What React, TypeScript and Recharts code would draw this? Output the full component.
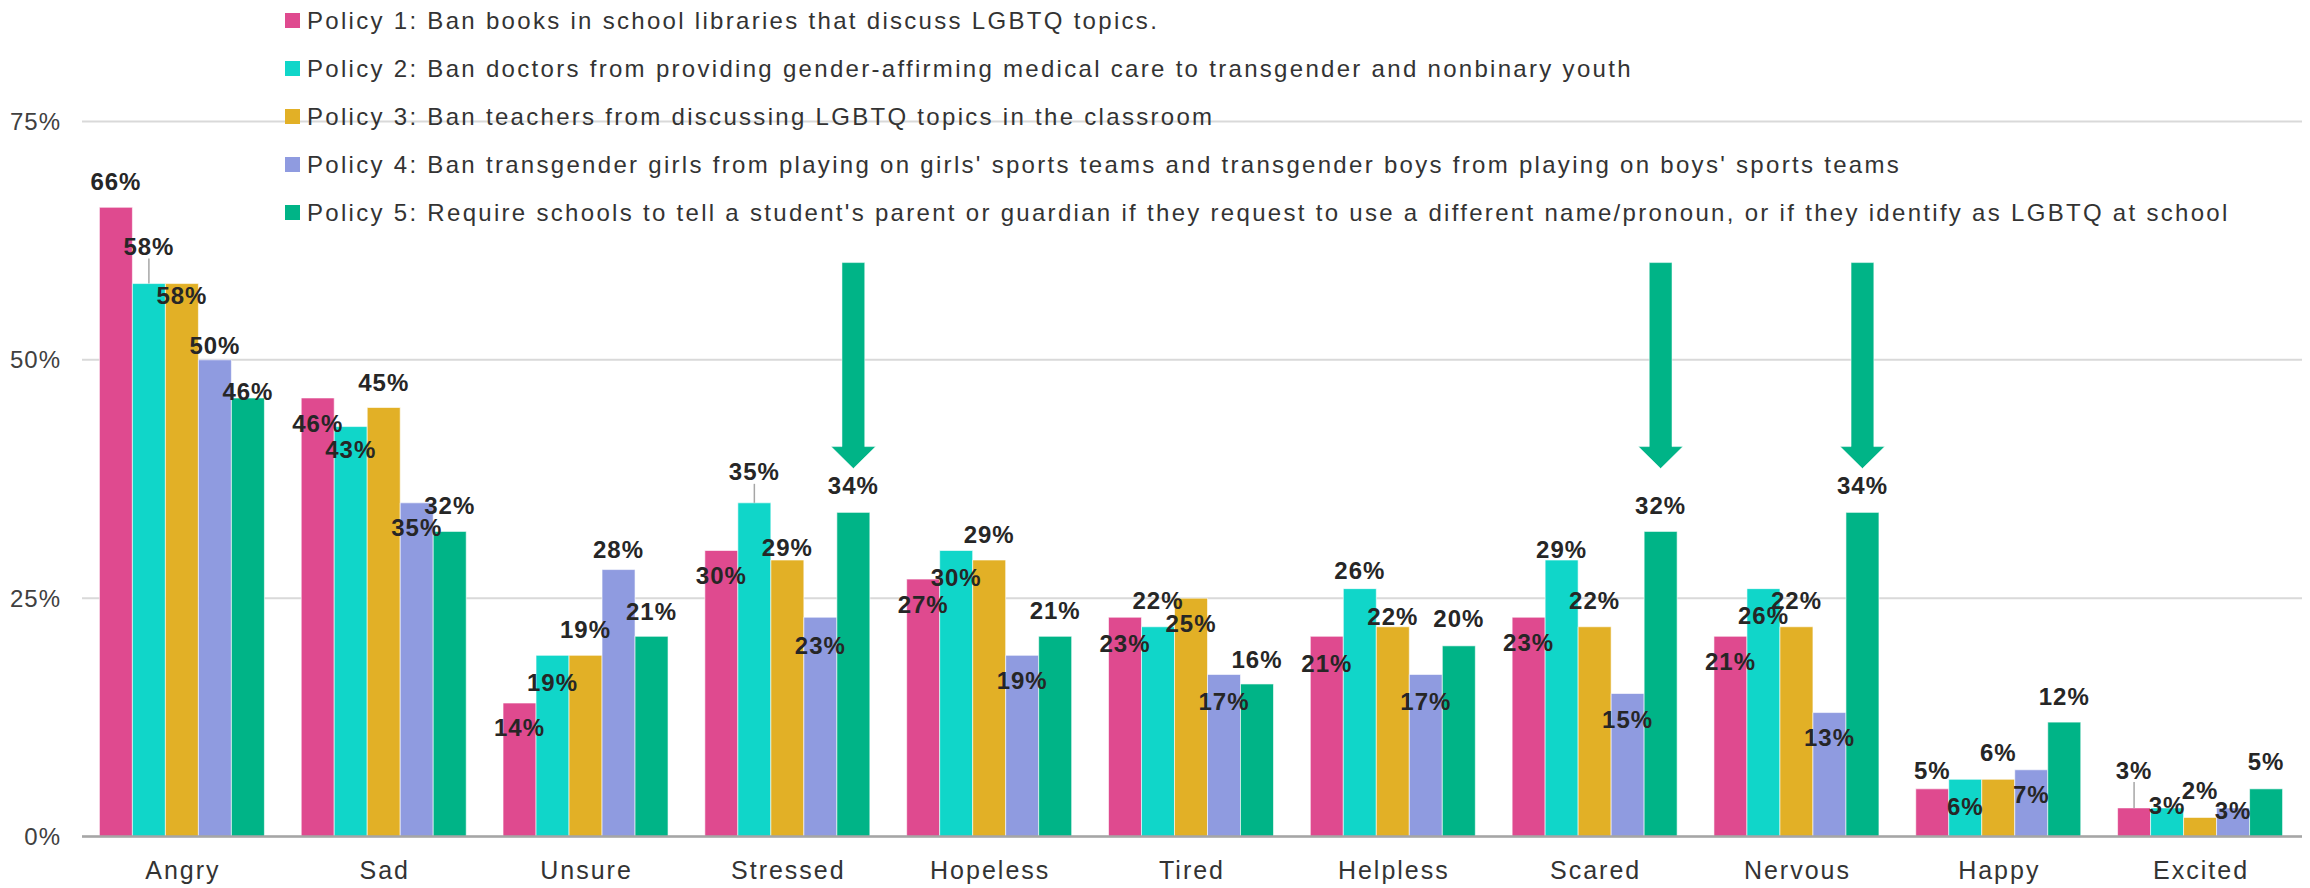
import React from 'react'
import { BarChart, Bar, XAxis, YAxis, CartesianGrid, Legend, LabelList } from 'recharts'

const emotions = ['Angry', 'Sad', 'Unsure', 'Stressed', 'Hopeless', 'Tired', 'Helpless', 'Scared', 'Nervous', 'Happy', 'Excited']
const policy1 = [66, 46, 14, 30, 27, 23, 21, 23, 21, 5, 3]
const policy2 = [58, 43, 19, 35, 30, 22, 26, 29, 26, 6, 3]
const policy3 = [58, 45, 19, 29, 29, 25, 22, 22, 22, 6, 2]
const policy4 = [50, 35, 28, 23, 19, 17, 17, 15, 13, 7, 3]
const policy5 = [46, 32, 21, 34, 21, 16, 20, 32, 34, 12, 5]

const policyNames = [
  'Policy 1: Ban books in school libraries that discuss LGBTQ topics.',
  'Policy 2: Ban doctors from providing gender-affirming medical care to transgender and nonbinary youth',
  'Policy 3: Ban teachers from discussing LGBTQ topics in the classroom',
  "Policy 4: Ban transgender girls from playing on girls' sports teams and transgender boys from playing on boys' sports teams",
  "Policy 5: Require schools to tell a student's parent or guardian if they request to use a different name/pronoun, or if they identify as LGBTQ at school",
]
const yTicks = [0, 25, 50, 75]

// categories where the arrow points at policy 5, arrow spans these values
const highlighted = ['Stressed', 'Scared', 'Nervous']
const arrowFrom = 60.2
const arrowHeadAt = 40.9
const arrowTip = 38.6

const colors = ['#DF4A8F', '#10D6C9', '#E2B026', '#8F9BE0', '#00B487']
const FONT = '"Liberation Sans", Arial, sans-serif'

// vertical shift of each value label from its bar top (px, negative = above)
const labelShift = [
  [-26, 25, 24, 25, 25, 26, 27, 25, 25, -18, -38],
  [-37, 23, 27, -31, 27, -26, -18, -11, 27, 27, -3],
  [12, -25, -26, -13, -26, 25, -10, -26, -26, -27, -27],
  [-14, 25, -20, 28, 25, 27, 27, 26, 25, 25, 2],
  [-7, -26, -25, -27, -26, -25, -27, -26, -27, -26, -27],
]

const data = emotions.map((e, i) => ({
  emotion: e,
  p1: policy1[i],
  p2: policy2[i],
  p3: policy3[i],
  p4: policy4[i],
  p5: policy5[i],
}))

function valueLabel(shifts: number[]) {
  return (props: any) => {
    const { x, y, width, value, index } = props
    const cx = x + width / 2
    const cy = y + shifts[index]
    return (
      <g>
        {shifts[index] <= -30 && (
          <line x1={cx} x2={cx} y1={y} y2={cy + 12} stroke="#a6a6a6" strokeWidth={1.5} />
        )}
        <text
          x={cx}
          y={cy + 8.6}
          textAnchor="middle"
          fontFamily={FONT}
          fontSize={24}
          fontWeight="bold"
          letterSpacing={1}
          fill="#262626"
        >
          {value}%
        </text>
      </g>
    )
  }
}

function ArrowBar(props: any) {
  const { x, y, width, height, payload, value } = props
  const base = y + height
  const unit = value ? height / value : 0
  const cx = x + width / 2
  let arrow = null
  if (highlighted.includes(payload.emotion)) {
    const top = base - arrowFrom * unit
    const head = base - arrowHeadAt * unit
    const tip = base - arrowTip * unit
    const sw = width * 0.345
    const hw = width * 0.675
    const pts = [
      [cx - sw, top], [cx + sw, top], [cx + sw, head], [cx + hw, head],
      [cx, tip], [cx - hw, head], [cx - sw, head],
    ].map((p) => p.join(',')).join(' ')
    arrow = <polygon points={pts} fill={colors[4]} stroke="#ffffff" strokeOpacity={0.5} strokeWidth={1} />
  }
  return (
    <g>
      <rect x={x} y={y} width={width} height={height} fill={colors[4]} stroke="#ffffff" strokeOpacity={0.6} strokeWidth={1} />
      {arrow}
    </g>
  )
}

const LegendContent = () => (
  <div style={{ display: 'flex', flexDirection: 'column', fontFamily: FONT }}>
    {policyNames.map((n, i) => (
      <div key={n} style={{ height: 48, display: 'flex', alignItems: 'center' }}>
        <span style={{ width: 15, height: 15, background: colors[i], marginRight: 7, flex: 'none' }} />
        <span style={{ fontSize: 24, letterSpacing: 2.3, color: '#333333', whiteSpace: 'nowrap' }}>{n}</span>
      </div>
    ))}
  </div>
)

const XTick = ({ x, y, payload }: any) => (
  <text x={x} y={y + 36} textAnchor="middle" fontFamily={FONT} fontSize={25} letterSpacing={2} fill="#333333">
    {payload.value}
  </text>
)

const YTick = ({ x, y, payload }: any) => (
  <text x={x} y={y + 8.6} textAnchor="end" fontFamily={FONT} fontSize={24} letterSpacing={1} fill="#404040">
    {payload.value}%
  </text>
)

export default function App() {
  const keys = ['p1', 'p2', 'p3', 'p4']
  return (
    <div style={{ position: 'absolute', left: 0, top: 0, background: '#fff' }}>
      <BarChart
        width={2310}
        height={888}
        data={data}
        margin={{ top: 121.5, right: 8, left: 0, bottom: 0 }}
        barCategoryGap={17.4}
        barGap={0}
      >
        <CartesianGrid vertical={false} stroke="#d9d9d9" strokeWidth={2} />
        <XAxis
          dataKey="emotion"
          height={51.5}
          axisLine={{ stroke: '#a6a6a6', strokeWidth: 2.5 }}
          tickLine={false}
          tickMargin={0}
          tick={<XTick />}
          interval={0}
        />
        <YAxis
          width={82}
          domain={[0, 75]}
          ticks={yTicks}
          axisLine={false}
          tickLine={false}
          tickMargin={15}
          tick={<YTick />}
        />
        <Legend
          layout="vertical"
          align="center"
          verticalAlign="middle"
          wrapperStyle={{ left: 285, top: -3.3, width: 'auto' }}
          content={<LegendContent />}
        />
        {keys.map((k, i) => (
          <Bar
            key={k}
            dataKey={k}
            name={policyNames[i]}
            fill={colors[i]}
            stroke="#ffffff"
            strokeOpacity={0.6}
            strokeWidth={1}
            isAnimationActive={false}
          >
            <LabelList dataKey={k} content={valueLabel(labelShift[i])} />
          </Bar>
        ))}
        <Bar dataKey="p5" name={policyNames[4]} fill={colors[4]} shape={<ArrowBar />} isAnimationActive={false}>
          <LabelList dataKey="p5" content={valueLabel(labelShift[4])} />
        </Bar>
      </BarChart>
    </div>
  )
}
